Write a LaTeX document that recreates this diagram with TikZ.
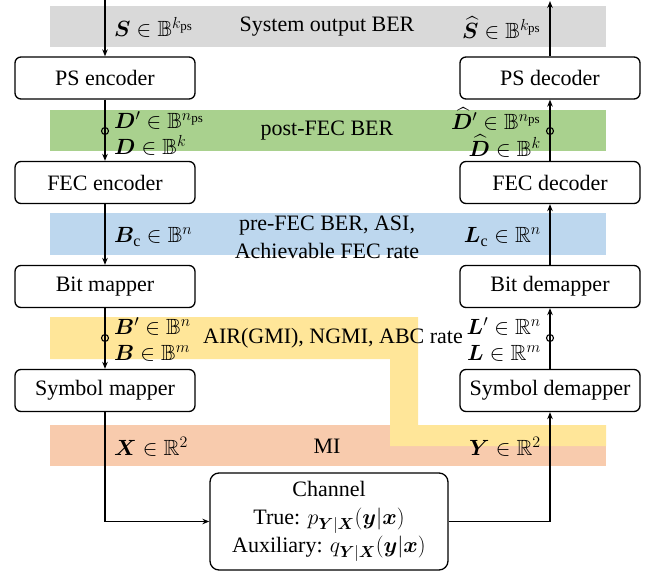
\RequirePackage{fix-cm}
\documentclass[tikz,border=0pt]{standalone}
\usepackage{amsmath,amssymb,bm}
\usepackage{fontspec}
\setmainfont{Liberation Serif}
\DeclareMathSizes{22}{22}{16}{13}
\usetikzlibrary{arrows.meta}
\definecolor{bandgray}{HTML}{D9D9D9}
\definecolor{bandgreen}{HTML}{A9D18E}
\definecolor{bandblue}{HTML}{BDD7EE}
\definecolor{bandyellow}{HTML}{FFE699}
\definecolor{bandorange}{HTML}{F8CBAD}
\tikzset{
  blk/.style={draw, line width=1.3pt, rounded corners=6pt, minimum width=180pt, minimum height=42pt, inner sep=0pt, fill=white},
  flow/.style={line width=1.3pt, -{Stealth[length=7pt,width=5.5pt]}},
  ring/.style={circle, draw, line width=1.1pt, minimum size=7pt, inner sep=0pt},
  lbl/.style={inner sep=0pt},
}
\begin{document}
\begin{tikzpicture}[x=1pt,y=-1pt,font=\fontsize{22}{28}\selectfont]
\useasboundingbox (0,0) rectangle (651,572);
% bands
\fill[bandgray] (50,6) rectangle (606,47);
\fill[bandgreen] (50,110) rectangle (606,151);
\fill[bandblue] (50,213) rectangle (606,255);
\fill[bandorange] (50,425) rectangle (606,466);
\fill[bandyellow] (50,317) -- (418,317) -- (418,425) -- (606,425) -- (606,446) -- (390,446) -- (390,359) -- (50,359) -- cycle;
% blocks
\node[blk] (psenc) at (105,78) {PS encoder};
\node[blk] (fecenc) at (105,182.5) {FEC encoder};
\node[blk] (bitmap) at (105,286.5) {Bit mapper};
\node[blk] (symmap) at (105,390.5) {Symbol mapper};
\node[blk] (psdec) at (550,78) {PS decoder};
\node[blk] (fecdec) at (550,182.5) {FEC decoder};
\node[blk] (bitdemap) at (550,286.5) {Bit demapper};
\node[blk] (symdemap) at (550,390.5) {Symbol demapper};
\node[blk, minimum width=238pt, minimum height=97pt, rounded corners=9pt, align=center] (chan) at (329,521.5)
  {Channel\\True: $p_{\bm{Y}|\bm{X}}(\bm{y}|\bm{x})$\\Auxiliary: $q_{\bm{Y}|\bm{X}}(\bm{y}|\bm{x})$};
% connectors
\coordinate (srcin) at (105,0);
\coordinate (sinkout) at (550,1);
\draw[flow] (srcin) -- (psenc.north);
\draw[flow] (psenc.south) -- (fecenc.north);
\draw[flow] (fecenc.south) -- (bitmap.north);
\draw[flow] (bitmap.south) -- (symmap.north);
\draw[flow] (symmap.south) |- (chan.west);
\draw[flow] (chan.east) -| (symdemap.south);
\draw[flow] (symdemap.north) -- (bitdemap.south);
\draw[flow] (bitdemap.north) -- (fecdec.south);
\draw[flow] (fecdec.north) -- (psdec.south);
\draw[flow] (psdec.north) -- (sinkout);
\node[ring] (ringa) at (105,131) {};
\node[ring] (ringb) at (105,338) {};
\node[ring] (ringc) at (550,131) {};
\node[ring] (ringd) at (550,338) {};
% band labels
\node[lbl] (tsys) at (327,27) {System output BER};
\node[lbl] (tpost) at (327,131) {post-FEC BER};
\node[lbl, align=center] (tpre) at (327,237) {pre-FEC BER, ASI,\\Achievable FEC rate};
\node[lbl] (tair) at (333,338) {AIR(GMI), NGMI, ABC rate};
\node[lbl] (tmi) at (327,446) {MI};
% signal labels left
\node[lbl, anchor=west] (ls) at (114,27) {$\bm{S}\in\mathbb{B}^{k_{\mathrm{ps}}}$};
\node[lbl, anchor=west] (ldp) at (114,120) {$\bm{D}'\in\mathbb{B}^{n_{\mathrm{ps}}}$};
\node[lbl, anchor=west] (ld) at (114,145) {$\bm{D}\in\mathbb{B}^{k}$};
\node[lbl, anchor=west] (lbc) at (114,237) {$\bm{B}_{\mathrm{c}}\in\mathbb{B}^{n}$};
\node[lbl, anchor=west] (lbp) at (114,326) {$\bm{B}'\in\mathbb{B}^{n}$};
\node[lbl, anchor=west] (lb) at (114,353) {$\bm{B}\in\mathbb{B}^{m}$};
\node[lbl, anchor=west] (lx) at (114,447) {$\bm{X}\in\mathbb{R}^{2}$};
% signal labels right
\node[lbl, anchor=east] (rs) at (541,28) {$\widehat{\bm{S}}\in\mathbb{B}^{k_{\mathrm{ps}}}$};
\node[lbl, anchor=east] (rdp) at (541,119) {$\widehat{\bm{D}}'\in\mathbb{B}^{n_{\mathrm{ps}}}$};
\node[lbl, anchor=east] (rd) at (541,146) {$\widehat{\bm{D}}\in\mathbb{B}^{k}$};
\node[lbl, anchor=east] (rlc) at (541,237) {$\bm{L}_{\mathrm{c}}\in\mathbb{R}^{n}$};
\node[lbl, anchor=east] (rlp) at (541,326) {$\bm{L}'\in\mathbb{R}^{n}$};
\node[lbl, anchor=east] (rl) at (541,353) {$\bm{L}\in\mathbb{R}^{m}$};
\node[lbl, anchor=east] (ry) at (541,447) {$\bm{Y}\in\mathbb{R}^{2}$};
\end{tikzpicture}
\end{document}
